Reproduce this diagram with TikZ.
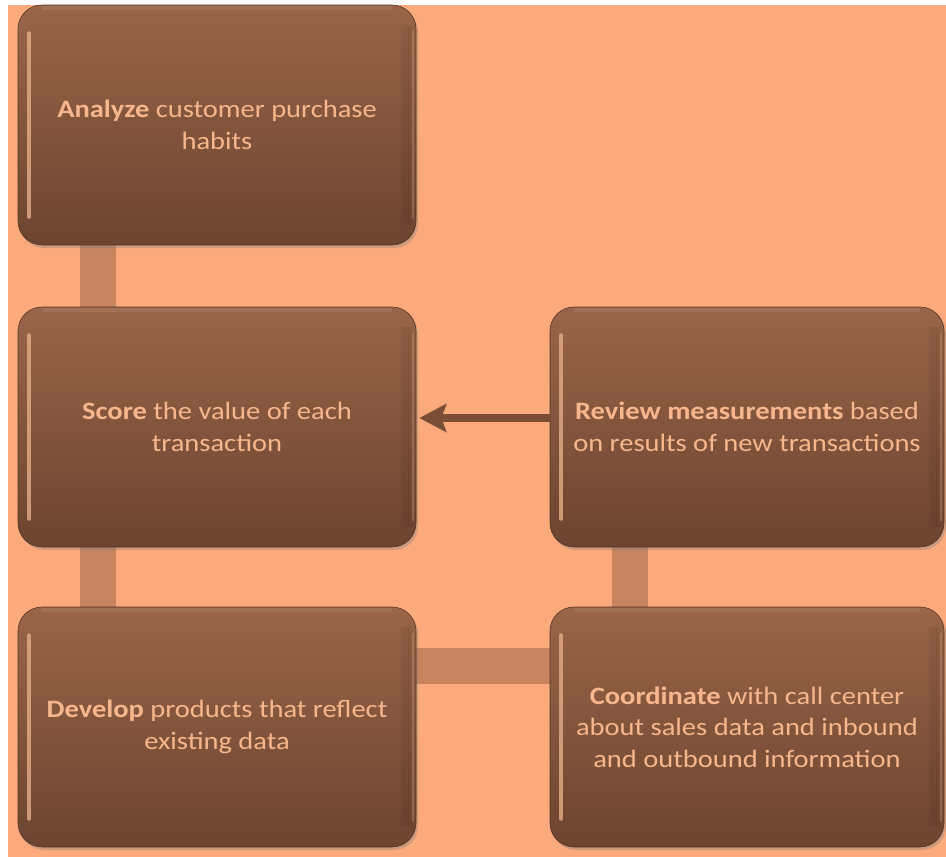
\documentclass[tikz,border=0pt]{standalone}
\usepackage{fontspec}
\setmainfont{Carlito}[FakeStretch=1.14]
\usetikzlibrary{shadows,arrows.meta}
\definecolor{bgpeach}{HTML}{FCAA7C}
\definecolor{boxtop}{HTML}{9A6549}
\definecolor{boxbot}{HTML}{6C4430}
\definecolor{txt}{HTML}{F8B68C}
\definecolor{barcol}{HTML}{C8845E}
\definecolor{arrcol}{HTML}{7A4E36}
\definecolor{hilite}{HTML}{E0A882}
\tikzset{
  x=1pt, y=-1pt,
  stagebox/.style={rounded corners=24pt, minimum height=240pt, inner sep=0pt,
    top color=boxtop, bottom color=boxbot, draw=boxbot!80!black, line width=0.6pt,
    text=txt, align=center, font=\fontsize{25}{31.5}\selectfont,
    drop shadow={shadow xshift=2pt, shadow yshift=-3pt, opacity=0.35},
    path picture={
      \draw[hilite, line width=3.5pt, line cap=round, opacity=0.85]
        ([xshift=11pt,yshift=-28pt]path picture bounding box.north west) --
        ([xshift=11pt,yshift=28pt]path picture bounding box.south west);
      \foreach \d/\o in {6/0.05,10/0.06,14/0.04} {
        \draw[black, line width=5pt, opacity=\o, line cap=round]
          ([xshift=-\d pt,yshift=-22pt]path picture bounding box.north east) --
          ([xshift=-\d pt,yshift=22pt]path picture bounding box.south east);
      }
      \draw[hilite, line width=2pt, opacity=0.3]
        ([xshift=-3pt,yshift=-26pt]path picture bounding box.north east) --
        ([xshift=-3pt,yshift=26pt]path picture bounding box.south east);
      \draw[white, line width=4pt, opacity=0.08]
        ([xshift=24pt,yshift=-3pt]path picture bounding box.north west) --
        ([xshift=-24pt,yshift=-3pt]path picture bounding box.north east);
    }},
  leftbox/.style={stagebox, minimum width=398pt},
  rightbox/.style={stagebox, minimum width=394pt},
  bar/.style={barcol, line width=36pt},
  arr/.style={arrcol, line width=8pt, -{Stealth[length=27pt, width=28pt, inset=5pt]}, shorten >=3pt}
}
\begin{document}
\begin{tikzpicture}
\useasboundingbox (0,0) rectangle (946,857);
\fill[white] (0,0) rectangle (946,857);
\fill[bgpeach] (8,5) rectangle (946,857);
% connectors first (behind boxes)
\coordinate (c12a) at (98,240); \coordinate (c12b) at (98,312);
\coordinate (c24a) at (98,540); \coordinate (c24b) at (98,612);
\coordinate (c35a) at (630,540); \coordinate (c35b) at (630,612);
\coordinate (c45a) at (410,666); \coordinate (c45b) at (556,666);
\draw[bar] (c12a) -- (c12b);
\draw[bar] (c24a) -- (c24b);
\draw[bar] (c35a) -- (c35b);
\draw[bar] (c45a) -- (c45b);
\node[leftbox] (b1) at (217,125) {\textbf{Analyze} customer purchase\\habits};
\node[leftbox] (b2) at (217,427) {\textbf{Score} the value of each\\transaction};
\node[rightbox] (b3) at (747,427) {\textbf{Review measurements} based\\on results of new transactions};
\node[leftbox] (b4) at (217,727) {\textbf{Develop} products that reflect\\existing data};
\node[rightbox] (b5) at (747,727) {\textbf{Coordinate} with call center\\about sales data and inbound\\and outbound information};
\draw[arr] ([yshift=9pt]b3.west) -- ([yshift=9pt]b2.east);
\end{tikzpicture}
\end{document}
